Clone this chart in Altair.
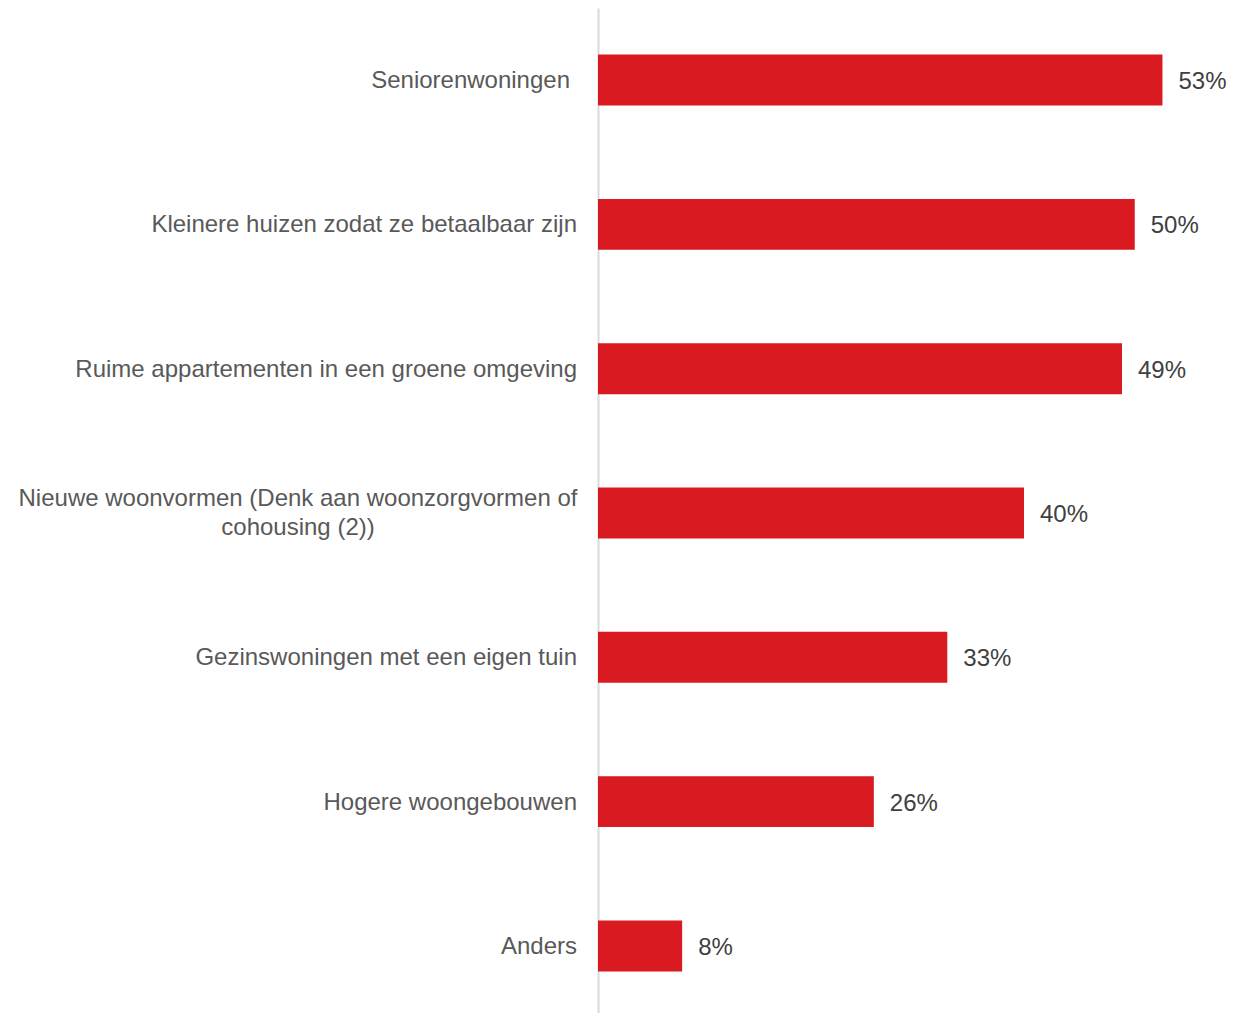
import altair as alt
import pandas as pd

categories = [
    "Seniorenwoningen",
    "Kleinere huizen zodat ze betaalbaar zijn",
    "Ruime appartementen in een groene omgeving",
    "Nieuwe woonvormen (Denk aan woonzorgvormen of cohousing (2))",
    "Gezinswoningen met een eigen tuin",
    "Hogere woongebouwen",
    "Anders",
]
display_labels = [
    "Seniorenwoningen",
    "Kleinere huizen zodat ze betaalbaar zijn",
    "Ruime appartementen in een groene omgeving",
    "Nieuwe woonvormen (Denk aan woonzorgvormen of\ncohousing (2))",
    "Gezinswoningen met een eigen tuin",
    "Hogere woongebouwen",
    "Anders",
]
# label style: "right" = right aligned, "trail" = right aligned with trailing space, "multi" = centred two lines
label_style = ["trail", "right", "right", "multi", "right", "right", "right"]
values = [53.0, 50.4, 49.2, 40.0, 32.8, 25.9, 7.9]
value_labels = ["53%", "50%", "49%", "40%", "33%", "26%", "8%"]

df = pd.DataFrame({
    "category": categories,
    "display": display_labels,
    "style": label_style,
    "value": values,
    "pct": value_labels,
})

FONT = "Liberation Sans"

y_enc = alt.Y(
    "category:N",
    sort=categories,
    scale=alt.Scale(paddingInner=0.647, paddingOuter=0.323),
    axis=alt.Axis(labels=False, ticks=False, title=None, domainColor="#D9D9D9", domainWidth=2),
)
y_plain = alt.Y("category:N", sort=categories)
x_enc = alt.X("value:Q", scale=alt.Scale(domain=[0, 60]), axis=None)

base = alt.Chart(df)

bars = base.mark_bar(color="#D91A21").encode(x=x_enc, y=y_enc)

vals = base.mark_text(align="left", baseline="middle", dx=16, dy=2, fontSize=24, font=FONT, color="#404040").encode(
    x=x_enc, y=y_plain, text="pct:N"
)

labels_right = base.transform_filter("datum.style == 'right'").mark_text(
    align="right", baseline="middle", dy=1, fontSize=24, font=FONT, color="#595959"
).encode(x=alt.value(-21), y=y_plain, text="display:N")

labels_trail = base.transform_filter("datum.style == 'trail'").mark_text(
    align="right", baseline="middle", dy=1, dx=-7, fontSize=24, font=FONT, color="#595959"
).encode(x=alt.value(-21), y=y_plain, text="display:N")

labels_multi = base.transform_filter("datum.style == 'multi'").mark_text(
    align="center", baseline="middle", dy=-14, fontSize=24, font=FONT, color="#595959",
    lineBreak="\n", lineHeight=29
).encode(x=alt.value(-300), y=y_plain, text="display:N")

chart = alt.layer(bars, vals, labels_right, labels_trail, labels_multi).properties(
    width=639,
    height=1010,
    autosize=alt.AutoSizeParams(type="none"),
    padding={"left": 590, "top": 0, "right": 0, "bottom": 0},
).configure_view(stroke=None)

chart.save("out.html", embed_options={"renderer": "svg", "actions": False})
